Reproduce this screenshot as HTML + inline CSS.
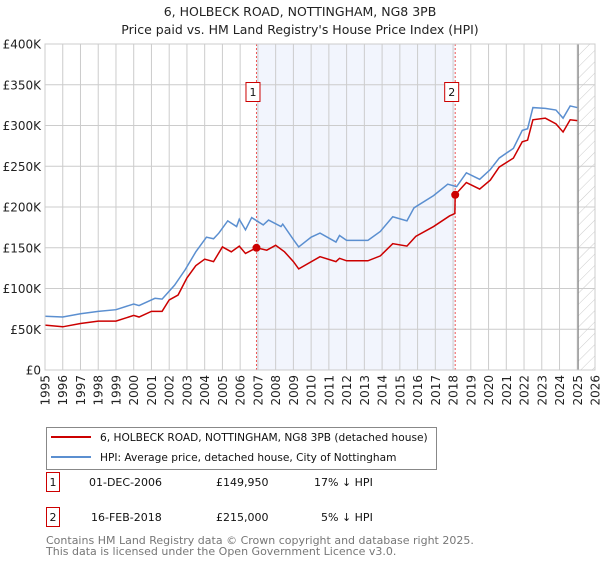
<!DOCTYPE html>
<html><head><meta charset="utf-8">
<style>
body{margin:0;background:#fff;font-family:"DejaVu Sans","Liberation Sans",sans-serif;}
svg text{font-family:"DejaVu Sans","Liberation Sans",sans-serif;}
</style></head>
<body>
<svg id="chart" width="600" height="560" xmlns="http://www.w3.org/2000/svg">
<defs>
<pattern id="hatch" width="8" height="8" patternUnits="userSpaceOnUse" patternTransform="rotate(45)">
<line x1="0" y1="0" x2="0" y2="8" stroke="#ccc" stroke-width="1"/>
</pattern>
</defs>
<text x="300" y="16" text-anchor="middle" font-size="12.5" fill="#222">6, HOLBECK ROAD, NOTTINGHAM, NG8 3PB</text>
<text x="300" y="34" text-anchor="middle" font-size="12.5" fill="#222">Price paid vs. HM Land Registry's House Price Index (HPI)</text>
<g id="plot"></g>
<g>
<rect x="46.5" y="427.5" width="390" height="42" fill="#fff" stroke="#888"/>
<line x1="51" y1="437" x2="91" y2="437" stroke="#cc0000" stroke-width="2"/>
<text x="100" y="441" font-size="10.6" fill="#111">6, HOLBECK ROAD, NOTTINGHAM, NG8 3PB (detached house)</text>
<line x1="51" y1="457" x2="91" y2="457" stroke="#5b8fd0" stroke-width="2"/>
<text x="100" y="461" font-size="10.6" fill="#111">HPI: Average price, detached house, City of Nottingham</text>
</g>
<g>
<rect x="46.5" y="472.5" width="13" height="19" fill="#fff" stroke="#cc0000"/>
<text x="53" y="486" text-anchor="middle" font-size="11" fill="#111">1</text>
<text x="89" y="486" font-size="11" fill="#111">01-DEC-2006</text>
<text x="216" y="486" font-size="11" fill="#111">£149,950</text>
<text x="314" y="486" font-size="11" fill="#111">17% ↓ HPI</text>
</g>
<g>
<rect x="46.5" y="507.5" width="13" height="19" fill="#fff" stroke="#cc0000"/>
<text x="53" y="521" text-anchor="middle" font-size="11" fill="#111">2</text>
<text x="91" y="521" font-size="11" fill="#111">16-FEB-2018</text>
<text x="216" y="521" font-size="11" fill="#111">£215,000</text>
<text x="321" y="521" font-size="11" fill="#111">5% ↓ HPI</text>
</g>
<text x="46" y="544" font-size="11" fill="#777">Contains HM Land Registry data © Crown copyright and database right 2025.</text>
<text x="46" y="555" font-size="11" fill="#777">This data is licensed under the Open Government Licence v3.0.</text>
</svg>
<script>
const hpiYears=[1995,1996,1997,1998,1999,2000,2000.3,2001.2,2001.6,2002.3,2002.9,2003.5,2004.1,2004.5,2004.8,2005.3,2005.8,2005.95,2006.3,2006.65,2007.3,2007.6,2008.3,2008.4,2009.0,2009.3,2010.0,2010.5,2011.4,2011.6,2012.0,2013.2,2013.9,2014.6,2015.4,2015.8,2016.9,2017.7,2018.2,2018.75,2019.5,2020.1,2020.6,2021.4,2021.9,2022.2,2022.5,2023.2,2023.8,2024.2,2024.6,2025.0];
const hpiValues=[66,65,69,72,74,81,79,88,87,104,123,145,163,161,168,183,176,185,172,187,178,184,176,179,160,151,163,168,157,165,159,159,170,188,183,199,214,228,225,242,234,246,260,272,294,296,322,321,319,309,324,322];
const paidYears=[1995,1996,1997,1998,1999,2000,2000.3,2001,2001.6,2002,2002.5,2003,2003.5,2004,2004.5,2005,2005.5,2005.95,2006.3,2006.92,2007.5,2008,2008.5,2009,2009.3,2010.5,2011.4,2011.6,2012,2013.2,2013.9,2014.6,2015.4,2015.9,2016.9,2017.8,2018.1,2018.12,2018.75,2019.5,2020.1,2020.6,2021.4,2021.9,2022.2,2022.5,2023.2,2023.8,2024.2,2024.6,2025.0];
const paidValues=[55,53,57,60,60,67,65,72,72,86,92,113,128,136,133,151,145,152,143,150,147,153,145,133,124,139,133,137,134,134,140,155,152,164,176,189,192,215,230,222,233,249,260,280,282,307,309,302,292,307,306];
const saleYears=[2006.92,2018.12];
const saleValues=[149.95,215];
const saleLabels=["1","2"];
const yTicks=[0,50,100,150,200,250,300,350,400];
const yTickLabels=["£0","£50K","£100K","£150K","£200K","£250K","£300K","£350K","£400K"];
const xTicks=[1995,1996,1997,1998,1999,2000,2001,2002,2003,2004,2005,2006,2007,2008,2009,2010,2011,2012,2013,2014,2015,2016,2017,2018,2019,2020,2021,2022,2023,2024,2025,2026];

const X0=45,X1=595,Y0=370,Y1=44;
const xs=y=>X0+(y-1995)/(2026-1995)*(X1-X0);
const ys=v=>Y0-v/400*(Y0-Y1);
const NS="http://www.w3.org/2000/svg";
const g=document.getElementById('plot');
function mk(tag,attrs,parent){const e=document.createElementNS(NS,tag);for(const k in attrs)e.setAttribute(k,attrs[k]);(parent||g).appendChild(e);return e;}

let r=mk('rect',{x:xs(saleYears[0]),y:Y1,width:xs(saleYears[1])-xs(saleYears[0]),height:Y0-Y1,fill:'#f2f5fd'});


let h=mk('rect',{x:xs(2025.05),y:Y1,width:X1-xs(2025.05),height:Y0-Y1,fill:'url(#hatch)'});



yTicks.forEach((t,i)=>{
  const l=mk('line',{x1:X0,x2:X1,y1:ys(t),y2:ys(t),stroke:'#ccc','stroke-width':1});
  
  
  const tx=mk('text',{x:X0-4,y:ys(t)+4.5,'text-anchor':'end','font-size':'12',fill:'#222'});
  tx.textContent=yTickLabels[i];
  
  
});
xTicks.forEach(t=>{
  const l=mk('line',{x1:xs(t),x2:xs(t),y1:Y1,y2:Y0,stroke:'#ccc','stroke-width':1});
  
  
  const tx=mk('text',{transform:`translate(${xs(t)+4.5},${Y0+5}) rotate(-90)`,'text-anchor':'end','font-size':'12',fill:'#222'});
  tx.textContent=t;
  
  
});
let gl=mk('line',{x1:xs(2025.05),x2:xs(2025.05),y1:Y1,y2:Y0,stroke:'#888','stroke-width':1.2});



saleYears.forEach((s,i)=>{
  const l=mk('line',{x1:xs(s),x2:xs(s),y1:Y1,y2:Y0,stroke:'#e55','stroke-width':1,'stroke-dasharray':'2,2'});
  
  
  const b=mk('rect',{x:xs(s)-10.5,y:82.5,width:14,height:19,fill:'#fff',stroke:'#cc0000'});
  
  
  const tx=mk('text',{x:xs(s)-3.5,y:96,'text-anchor':'middle','font-size':'11',fill:'#111'});
  tx.textContent=saleLabels[i];
  
  
});

let hp=mk('polyline',{points:hpiYears.map((y,i)=>xs(y)+','+ys(hpiValues[i])).join(' '),fill:'none',stroke:'#5b8fd0','stroke-width':1.5});


let pp=mk('polyline',{points:paidYears.map((y,i)=>xs(y)+','+ys(paidValues[i])).join(' '),fill:'none',stroke:'#cc0000','stroke-width':1.5});


saleYears.forEach((s,i)=>{
  const c=mk('circle',{cx:xs(s),cy:ys(saleValues[i]),r:4,fill:'#cc0000'});
  
  
});
let ax=mk('rect',{x:X0,y:Y1,width:X1-X0,height:Y0-Y1,fill:'none',stroke:'#ccc'});


</script>
</body></html>
